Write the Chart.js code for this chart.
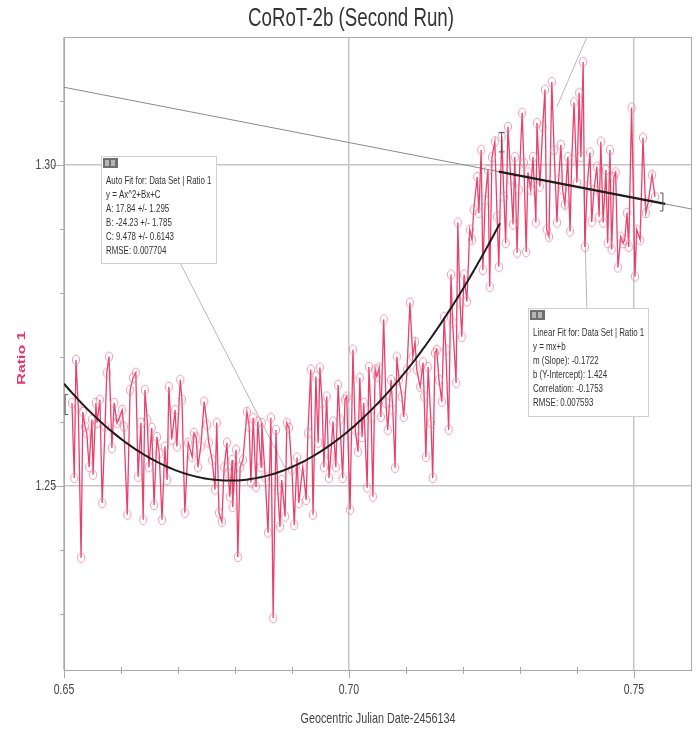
<!DOCTYPE html>
<html>
<head>
<meta charset="utf-8">
<script src="https://cdn.jsdelivr.net/npm/chart.js@4.4.1/dist/chart.umd.min.js"></script>
<style>
  html, body { margin: 0; padding: 0; background: #fff; }
  canvas { display: block; }
</style>
</head>
<body>
<canvas id="chart" width="699" height="734"></canvas>
<script>
// Geocentric Julian Date - 2456134
const times = [
  0.6514, 0.6518, 0.6521, 0.6525, 0.6530, 0.6533, 0.6537, 0.6540, 0.6544, 0.6549,
  0.6551, 0.6556, 0.6558, 0.6563, 0.6567, 0.6572, 0.6575, 0.6579, 0.6584, 0.6588,
  0.6593, 0.6596, 0.6602, 0.6605, 0.6611, 0.6616, 0.6621, 0.6626, 0.6630, 0.6635,
  0.6639, 0.6642, 0.6646, 0.6649, 0.6654, 0.6658, 0.6663, 0.6667, 0.6672, 0.6677,
  0.6681, 0.6684, 0.6689, 0.6695, 0.6698, 0.6704, 0.6707, 0.6712, 0.6718, 0.6725,
  0.6728, 0.6732, 0.6735, 0.6740, 0.6746, 0.6751, 0.6754, 0.6760, 0.6765, 0.6768,
  0.6772, 0.6777, 0.6781, 0.6786, 0.6788, 0.6791, 0.6795, 0.6796, 0.6802, 0.6805,
  0.6809, 0.6814, 0.6821, 0.6825, 0.6828, 0.6832, 0.6837, 0.6840, 0.6846, 0.6847,
  0.6853, 0.6858, 0.6863, 0.6867, 0.6872, 0.6875, 0.6879, 0.6882, 0.6888, 0.6891,
  0.6895, 0.6900, 0.6904, 0.6909, 0.6912, 0.6919, 0.6925, 0.6928, 0.6933, 0.6937,
  0.6942, 0.6946, 0.6949, 0.6953, 0.6956, 0.6961, 0.6965, 0.6968, 0.6972, 0.6977,
  0.6981, 0.6984, 0.6989, 0.6993, 0.6996, 0.7002, 0.7007, 0.7011, 0.7016, 0.7019,
  0.7023, 0.7026, 0.7032, 0.7035, 0.7039, 0.7042, 0.7046, 0.7049, 0.7053, 0.7056,
  0.7061, 0.7065, 0.7068, 0.7074, 0.7077, 0.7081, 0.7084, 0.7088, 0.7093, 0.7096,
  0.7102, 0.7107, 0.7112, 0.7116, 0.7119, 0.7125, 0.7130, 0.7132, 0.7135, 0.7139,
  0.7144, 0.7147, 0.7151, 0.7154, 0.7158, 0.7163, 0.7167, 0.7170, 0.7175, 0.7179,
  0.7182, 0.7188, 0.7191, 0.7195, 0.7198, 0.7202, 0.7207, 0.7212, 0.7216, 0.7219,
  0.7225, 0.7228, 0.7232, 0.7235, 0.7239, 0.7244, 0.7247, 0.7251, 0.7256, 0.7260,
  0.7263, 0.7268, 0.7272, 0.7275, 0.7279, 0.7284, 0.7288, 0.7291, 0.7295, 0.7298,
  0.7304, 0.7307, 0.7311, 0.7314, 0.7319, 0.7323, 0.7328, 0.7330, 0.7335, 0.7340,
  0.7344, 0.7347, 0.7351, 0.7356, 0.7360, 0.7365, 0.7368, 0.7372, 0.7375, 0.7379,
  0.7384, 0.7388, 0.7391, 0.7395, 0.7400, 0.7404, 0.7407, 0.7411, 0.7414, 0.7418,
  0.7423, 0.7426, 0.7430, 0.7435, 0.7439, 0.7442, 0.7446, 0.7451, 0.7454, 0.7458,
  0.7461, 0.7465, 0.7468, 0.7472, 0.7477, 0.7481, 0.7484, 0.7488, 0.7491, 0.7496,
  0.7502, 0.7505, 0.7511, 0.7516, 0.7521, 0.7525, 0.7532, 0.7537
];

// Ratio 1
const ratio = [
  1.2629, 1.2512, 1.2696, 1.2623, 1.2388, 1.2615, 1.2592, 1.2582, 1.2529, 1.2603,
  1.2517, 1.2629, 1.2598, 1.2634, 1.2473, 1.2592, 1.2676, 1.2701, 1.2559, 1.2629,
  1.2598, 1.2603, 1.2618, 1.2592, 1.2455, 1.2649, 1.2668, 1.2676, 1.2514, 1.2598,
  1.2447, 1.2649, 1.2603, 1.2529, 1.2590, 1.2470, 1.2576, 1.2551, 1.2447, 1.2561,
  1.2509, 1.2654, 1.2572, 1.2618, 1.2561, 1.2665, 1.2634, 1.2458, 1.2567, 1.2545,
  1.2582, 1.2575, 1.2529, 1.2561, 1.2631, 1.2595, 1.2567, 1.2540, 1.2494, 1.2598,
  1.2458, 1.2444, 1.2529, 1.2567, 1.2520, 1.2483, 1.2540, 1.2467, 1.2556, 1.2389,
  1.2529, 1.2540, 1.2615, 1.2592, 1.2505, 1.2606, 1.2498, 1.2600, 1.2529, 1.2598,
  1.2514, 1.2427, 1.2606, 1.2294, 1.2587, 1.2494, 1.2436, 1.2509, 1.2452, 1.2598,
  1.2590, 1.2525, 1.2439, 1.2544, 1.2473, 1.2529, 1.2478, 1.2582, 1.2681, 1.2455,
  1.2670, 1.2567, 1.2684, 1.2629, 1.2529, 1.2639, 1.2512, 1.2545, 1.2600, 1.2529,
  1.2657, 1.2603, 1.2512, 1.2634, 1.2639, 1.2463, 1.2712, 1.2587, 1.2553, 1.2668,
  1.2576, 1.2629, 1.2497, 1.2685, 1.2607, 1.2483, 1.2681, 1.2670, 1.2684, 1.2607,
  1.2759, 1.2629, 1.2587, 1.2665, 1.2618, 1.2528, 1.2701, 1.2665, 1.2639, 1.2607,
  1.2681, 1.2785, 1.2701, 1.2724, 1.2681, 1.2654, 1.2692, 1.2639, 1.2545, 1.2685,
  1.2598, 1.2512, 1.2707, 1.2712, 1.2665, 1.2631, 1.2763, 1.2712, 1.2587, 1.2829,
  1.2754, 1.2660, 1.2910, 1.2785, 1.2732, 1.2829, 1.2787, 1.2899, 1.2883, 1.2930,
  1.2981, 1.2925, 1.3023, 1.2836, 1.2945, 1.2992, 1.2810, 1.3012, 1.3036, 1.2919,
  1.2841, 1.3044, 1.2950, 1.2878, 1.3059, 1.2977, 1.2907, 1.3012, 1.2863, 1.2961,
  1.3081, 1.3003, 1.2864, 1.2988, 1.2961, 1.3012, 1.2910, 1.3065, 1.2966, 1.3059,
  1.3117, 1.2899, 1.2888, 1.3129, 1.3023, 1.2910, 1.2977, 1.3031, 1.2961, 1.2938,
  1.3012, 1.2896, 1.3008, 1.3097, 1.2972, 1.3112, 1.3012, 1.3160, 1.2872, 1.2966,
  1.3019, 1.2911, 1.2961, 1.2997, 1.2919, 1.3036, 1.2910, 1.2992, 1.2878, 1.3023,
  1.2868, 1.2981, 1.2988, 1.2840, 1.2888, 1.2878, 1.2883, 1.2925, 1.2872, 1.3089,
  1.2826, 1.2899, 1.2883, 1.3042, 1.2925, 1.2941, 1.2984, 1.2950
];

const xTickValues = [0.65, 0.70, 0.75];
const xTickLabels = ["0.65", "0.70", "0.75"];
const xMinorTicks = [0.66, 0.67, 0.68, 0.69, 0.71, 0.72, 0.73, 0.74];
const yTickValues = [1.25, 1.30];
const yTickLabels = ["1.25", "1.30"];
const yMinorTicks = [1.23, 1.24, 1.26, 1.27, 1.28, 1.29, 1.31];

// fits as printed in the annotation boxes
const quadCoef = [17.84, -24.23, 9.478];     // A, B, C
const quadRange = [0.65, 0.7267];
const linCoef = [-0.1722, 1.424];            // m, b
const linRange = [0.7263, 0.7555];

const autoFitText = [
  "Auto Fit for: Data Set | Ratio 1",
  "y = Ax^2+Bx+C",
  "A: 17.84 +/- 1.295",
  "B: -24.23 +/- 1.785",
  "C: 9.478 +/- 0.6143",
  "RMSE: 0.007704"
];
const linFitText = [
  "Linear Fit for: Data Set | Ratio 1",
  "y = mx+b",
  "m (Slope): -0.1722",
  "b (Y-Intercept): 1.424",
  "Correlation: -0.1753",
  "RMSE: 0.007593"
];

const X_MIN = 0.65, X_MAX = 0.7602;
const Y_MIN = 1.2213, Y_MAX = 1.3199;
const FONT = "'Liberation Sans', Arial, sans-serif";
const SQUEEZE = 0.72;

const quadFit = [];
for (let x = quadRange[0]; x <= quadRange[1] + 1e-9; x += 0.0005) {
  quadFit.push({ x, y: quadCoef[0] * x * x + quadCoef[1] * x + quadCoef[2] });
}
const linLine = (x) => ({ x, y: linCoef[0] * x + linCoef[1] });

// the original image is squeezed sideways, so the markers are narrow ellipses
const marker = (() => {
  const c = document.createElement("canvas");
  c.width = 10; c.height = 12;
  const g = c.getContext("2d");
  g.strokeStyle = "rgba(238,120,150,0.75)";
  g.lineWidth = 1;
  g.beginPath();
  g.ellipse(5, 6, 3.6, 4.8, 0, 0, Math.PI * 2);
  g.stroke();
  return c;
})();

function squeezed(ctx, text, x, y, font, color, align, sx) {
  ctx.save();
  ctx.font = font;
  ctx.fillStyle = color;
  ctx.textAlign = align;
  ctx.textBaseline = "middle";
  ctx.translate(x, y);
  ctx.scale(sx, 1);
  ctx.fillText(text, 0, 0);
  ctx.restore();
}

function drawBox(ctx, left, top, w, h, lines) {
  ctx.save();
  ctx.fillStyle = "#fff";
  ctx.fillRect(left, top, w, h);
  ctx.strokeStyle = "#cfcfcf";
  ctx.lineWidth = 1;
  ctx.strokeRect(left + 0.5, top + 0.5, w, h);
  ctx.fillStyle = "#6f6f6f";
  ctx.fillRect(left + 2, top + 2, 15, 10);
  ctx.fillStyle = "#b5b5b5";
  ctx.fillRect(left + 4, top + 4, 4, 6);
  ctx.fillRect(left + 10, top + 4, 4, 6);
  ctx.restore();
  lines.forEach((t, i) => {
    squeezed(ctx, t, left + 5, top + 25 + i * 14, "11px " + FONT, "#333", "left", SQUEEZE);
  });
}

const decor = {
  id: "decor",
  beforeDatasetsDraw(chart) {
    const { ctx, chartArea: a, scales: { x, y } } = chart;
    ctx.save();
    ctx.strokeStyle = "#a9a9a9";
    ctx.lineWidth = 1;
    ctx.strokeRect(a.left + 0.5, a.top + 0.5, a.right - a.left - 1, a.bottom - a.top);
    ctx.beginPath();
    xTickValues.forEach(v => { const p = Math.round(x.getPixelForValue(v)) + 0.5; ctx.moveTo(p, a.bottom); ctx.lineTo(p, a.bottom + 8); });
    xMinorTicks.forEach(v => { const p = Math.round(x.getPixelForValue(v)) + 0.5; ctx.moveTo(p, a.bottom - 3); ctx.lineTo(p, a.bottom + 4); });
    yTickValues.forEach(v => { const p = Math.round(y.getPixelForValue(v)) + 0.5; ctx.moveTo(a.left - 11, p); ctx.lineTo(a.left, p); });
    yMinorTicks.forEach(v => { const p = Math.round(y.getPixelForValue(v)) + 0.5; ctx.moveTo(a.left - 4, p); ctx.lineTo(a.left, p); });
    ctx.stroke();

    // leader lines of the annotation boxes
    ctx.strokeStyle = "#b9b9b9";
    ctx.beginPath();
    ctx.moveTo(x.getPixelForValue(0.67035), y.getPixelForValue(1.28474));
    ctx.lineTo(x.getPixelForValue(0.68895), y.getPixelForValue(1.25249));
    ctx.moveTo(x.getPixelForValue(0.74123), y.getPixelForValue(1.2961));
    ctx.lineTo(x.getPixelForValue(0.74175), y.getPixelForValue(1.2777));
    ctx.moveTo(x.getPixelForValue(0.74175), y.getPixelForValue(1.3199));
    ctx.lineTo(x.getPixelForValue(0.73649), y.getPixelForValue(1.30903));
    ctx.stroke();
    ctx.restore();
  },
  afterDatasetsDraw(chart) {
    const { ctx, chartArea: a, scales: { x, y } } = chart;
    ctx.save();
    // range brackets
    ctx.strokeStyle = "#555";
    ctx.lineWidth = 1;
    const bx0 = x.getPixelForValue(0.6502), by0 = y.getPixelForValue(1.2642), by1 = y.getPixelForValue(1.2611);
    ctx.beginPath();
    ctx.moveTo(bx0 + 3, by0); ctx.lineTo(bx0, by0); ctx.lineTo(bx0, by1); ctx.lineTo(bx0 + 3, by1);
    const ix = x.getPixelForValue(0.7268), iy0 = y.getPixelForValue(1.3050), iy1 = y.getPixelForValue(1.3020);
    ctx.moveTo(ix - 3, iy0); ctx.lineTo(ix + 3, iy0); ctx.moveTo(ix, iy0); ctx.lineTo(ix, iy1);
    ctx.moveTo(ix - 3, iy1); ctx.lineTo(ix + 3, iy1);
    const rx = x.getPixelForValue(0.7551), ry0 = y.getPixelForValue(1.2956), ry1 = y.getPixelForValue(1.2928);
    ctx.moveTo(rx - 3, ry0); ctx.lineTo(rx, ry0); ctx.lineTo(rx, ry1); ctx.lineTo(rx - 3, ry1);
    ctx.stroke();
    ctx.restore();

    drawBox(ctx, 101, 156, 115, 107, autoFitText);
    drawBox(ctx, 528, 308, 120, 108, linFitText);

    squeezed(ctx, "CoRoT-2b (Second Run)", 351, 19, "26px " + FONT, "#333", "center", SQUEEZE);
    squeezed(ctx, "Geocentric Julian Date-2456134", 378, 719, "15px " + FONT, "#444", "center", SQUEEZE);
    xTickValues.forEach((v, i) => squeezed(ctx, xTickLabels[i], x.getPixelForValue(v), a.bottom + 20, "15px " + FONT, "#444", "center", 0.7));
    yTickValues.forEach((v, i) => squeezed(ctx, yTickLabels[i], a.left - 8, y.getPixelForValue(v), "15px " + FONT, "#444", "right", 0.7));

    ctx.save();
    ctx.translate(22, 358);
    ctx.rotate(-Math.PI / 2);
    ctx.scale(1, SQUEEZE);
    ctx.font = "bold 16px " + FONT;
    ctx.fillStyle = "#e23a6d";
    ctx.textAlign = "center";
    ctx.textBaseline = "middle";
    ctx.fillText("Ratio 1", 0, 0);
    ctx.restore();
  }
};

const majorColor = (vals) => (c) =>
  vals.some(v => Math.abs(c.tick.value - v) < 1e-6) ? "#c6c6c6" : "rgba(0,0,0,0)";

new Chart(document.getElementById("chart"), {
  type: "scatter",
  data: {
    datasets: [
      {
        label: "Quadratic fit",
        data: quadFit,
        showLine: true,
        borderColor: "#1d1d1d",
        borderWidth: 2,
        pointRadius: 0,
        order: 0
      },
      {
        label: "Linear fit",
        data: [linLine(linRange[0]), linLine(linRange[1])],
        showLine: true,
        borderColor: "#1d1d1d",
        borderWidth: 2.2,
        pointRadius: 0,
        order: 0
      },
      {
        label: "Ratio 1",
        data: times.map((t, i) => ({ x: t, y: ratio[i] })),
        showLine: true,
        borderColor: "rgba(228,32,82,0.85)",
        borderWidth: 1.3,
        pointStyle: marker,
        pointRadius: 5,
        order: 1
      },
      {
        label: "Linear fit extended",
        data: [linLine(X_MIN), linLine(X_MAX)],
        showLine: true,
        borderColor: "#8a8a8a",
        borderWidth: 1,
        pointRadius: 0,
        order: 2
      }
    ]
  },
  options: {
    responsive: false,
    devicePixelRatio: 1,
    animation: false,
    layout: { padding: { left: 64, right: 7, top: 37, bottom: 64 } },
    plugins: { legend: { display: false }, tooltip: { enabled: false }, title: { display: false } },
    scales: {
      x: {
        type: "linear", min: X_MIN, max: X_MAX,
        ticks: { display: false, stepSize: 0.01 },
        grid: { color: majorColor(xTickValues), lineWidth: 1.5, drawTicks: false },
        border: { display: false }
      },
      y: {
        type: "linear", min: Y_MIN, max: Y_MAX,
        ticks: { display: false, stepSize: 0.01 },
        grid: { color: majorColor(yTickValues), lineWidth: 1.5, drawTicks: false },
        border: { display: false }
      }
    }
  },
  plugins: [decor]
});
</script>
</body>
</html>
